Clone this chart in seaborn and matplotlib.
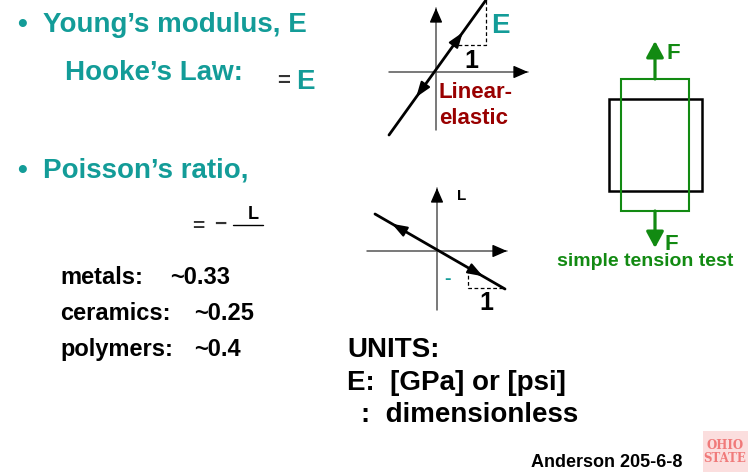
import matplotlib
matplotlib.use('Agg')
import matplotlib.pyplot as plt
import seaborn as sns
from matplotlib.patches import Rectangle

# Young's modulus sketch: strain vs stress (sketch units)
young_strain = [-46, 51]
young_stress = [-63, 72]
young_tri_strain = [23, 51, 51]
young_tri_stress = [27, 27, 72]

# Poisson sketch: axial strain vs lateral strain (sketch units)
poisson_axial = [-62, 68]
poisson_lateral = [37, -38]
poisson_tri_axial = [31, 31, 68]
poisson_tri_lateral = [-18, -37, -37]

materials = ['metals:', 'ceramics:', 'polymers:']
poisson_ratios = ['~0.33', '~0.25', '~0.4']

TEAL = '#139c98'
RED = '#990000'
GREEN = '#128a12'
AXIS = '#555555'

sns.set_theme(style='white')
plt.rcParams['font.family'] = ['Liberation Sans', 'DejaVu Sans']
plt.rcParams['font.weight'] = 'bold'

W, H = 748, 472
fig = plt.figure(figsize=(W / 100, H / 100), dpi=100)
ax = fig.add_axes([0, 0, 1, 1])
ax.set_xlim(0, W)
ax.set_ylim(H, 0)
ax.axis('off')


def txt(a, x, y, s, size, color='black', ha='left', va='baseline'):
    a.text(x, y, s, fontsize=size, color=color, ha=ha, va=va, fontweight='bold')


def pixel_axes(x0, y0, x1, y1, ox, oy):
    # small axes placed on the slide, origin at pixel (ox, oy), y up
    a = fig.add_axes([x0 / W, 1 - y1 / H, (x1 - x0) / W, (y1 - y0) / H])
    a.set_xlim(x0 - ox, x1 - ox)
    a.set_ylim(oy - y1, oy - y0)
    a.axis('off')
    a.patch.set_alpha(0)
    return a


def arrow(a, start, end, color, lw, scale, style='-|>,head_length=0.6,head_width=0.3'):
    a.annotate('', xy=end, xytext=start,
               arrowprops=dict(arrowstyle=style, color=color, lw=lw, mutation_scale=scale,
                               shrinkA=0, shrinkB=0))


def mid_head(a, xs, ys, frac, forward=True):
    x0, x1 = xs
    y0, y1 = ys
    tx, ty = x0 + frac * (x1 - x0), y0 + frac * (y1 - y0)
    sgn = 1 if forward else -1
    bx, by = tx - sgn * 0.06 * (x1 - x0), ty - sgn * 0.06 * (y1 - y0)
    arrow(a, (bx, by), (tx, ty), 'black', 1.5, 13, '-|>,head_length=0.7,head_width=0.25')


def axis_arrow(a, start, end):
    a.plot([start[0], end[0]], [start[1], end[1]], color=AXIS, lw=1.1)
    dx, dy = end[0] - start[0], end[1] - start[1]
    n = (dx ** 2 + dy ** 2) ** 0.5
    back = (end[0] - 6 * dx / n, end[1] - 6 * dy / n)
    arrow(a, back, end, 'black', 1.0, 11, '-|>,head_length=0.8,head_width=0.35')


# ---- left column text ----
txt(ax, 17, 32, '•', 20, TEAL)
txt(ax, 43, 32, 'Young’s modulus, E', 20, TEAL)
txt(ax, 65, 80, 'Hooke’s Law:', 20, TEAL)
txt(ax, 277, 87, '=', 16, '#333333')
txt(ax, 296, 89, 'E', 20, TEAL)

txt(ax, 17, 178, '•', 20, TEAL)
txt(ax, 43, 178, 'Poisson’s ratio,', 20, TEAL)
txt(ax, 192, 232, '=', 15, '#333333')
txt(ax, 214, 230, '−', 15, '#333333')
ax.plot([233, 263], [225, 225], color='black', lw=1)
txt(ax, 248, 219, 'L', 13)

for i, (m, r) in enumerate(zip(materials, poisson_ratios)):
    y = 284 + 36 * i
    txt(ax, 60, y, m, 17)
    txt(ax, 170 if i == 0 else 194, y, r, 17)

# ---- units ----
txt(ax, 347, 357, 'UNITS:', 20)
txt(ax, 347, 390, 'E:  [GPa] or [psi]', 20)
txt(ax, 361, 422, ':  dimensionless', 20)
txt(ax, 531, 467, 'Anderson 205-6-8', 13)

# logo block
ax.add_patch(Rectangle((703, 431), 45, 41, facecolor='#fbdede', edgecolor='none'))
ax.text(725, 452, 'OHIO\nSTATE', fontsize=8.5, color='#f07a7a', ha='center', va='center',
        fontfamily='DejaVu Serif', fontweight='bold', linespacing=0.95)

# ---- Young's modulus sketch ----
ya = pixel_axes(380, 0, 535, 140, 435, 72)
axis_arrow(ya, (-46, 0), (93, 0))
axis_arrow(ya, (1, -58), (1, 64))
sns.lineplot(x=young_strain, y=young_stress, ax=ya, color='black', lw=2,
             sort=False, estimator=None)
sns.lineplot(x=young_tri_strain, y=young_tri_stress, ax=ya, color='black', lw=0.9,
             ls=(0, (3, 2)), sort=False, estimator=None)
mid_head(ya, young_strain, young_stress, 0.76, True)
mid_head(ya, young_strain, young_stress, 0.28, False)
txt(ax, 491, 33, 'E', 20, TEAL)
txt(ax, 464, 68, '1', 18)
txt(ax, 439, 98, 'Linear-', 16, RED)
txt(ax, 439, 124, 'elastic', 16, RED)

# ---- Poisson sketch ----
pa = pixel_axes(360, 180, 515, 320, 437, 251)
axis_arrow(pa, (-70, 0), (70, 0))
axis_arrow(pa, (0, -59), (0, 63))
sns.lineplot(x=poisson_axial, y=poisson_lateral, ax=pa, color='black', lw=2,
             sort=False, estimator=None)
sns.lineplot(x=poisson_tri_axial, y=poisson_tri_lateral, ax=pa, color='black', lw=0.9,
             ls=(0, (3, 2)), sort=False, estimator=None)
mid_head(pa, poisson_axial, poisson_lateral, 0.83, True)
mid_head(pa, poisson_axial, poisson_lateral, 0.13, False)
txt(ax, 457, 200, 'L', 11)
txt(ax, 448, 284, '-', 14, TEAL, ha='center')
txt(ax, 479, 310, '1', 18)

# ---- simple tension test ----
ax.add_patch(Rectangle((609, 99), 93, 92, fill=False, edgecolor='black', lw=1.8))
ax.add_patch(Rectangle((621, 79), 68, 132, fill=False, edgecolor=GREEN, lw=1.5))
green_style = '-|>,head_length=0.65,head_width=0.35'
arrow(ax, (655, 79), (655, 41), GREEN, 2.3, 15, green_style)
arrow(ax, (655, 211), (655, 248), GREEN, 2.3, 15, green_style)
txt(ax, 667, 59, 'F', 16, GREEN)
txt(ax, 665, 250, 'F', 16, GREEN)
txt(ax, 557, 266, 'simple tension test', 14, GREEN)

fig.savefig('out.png', dpi=100)
